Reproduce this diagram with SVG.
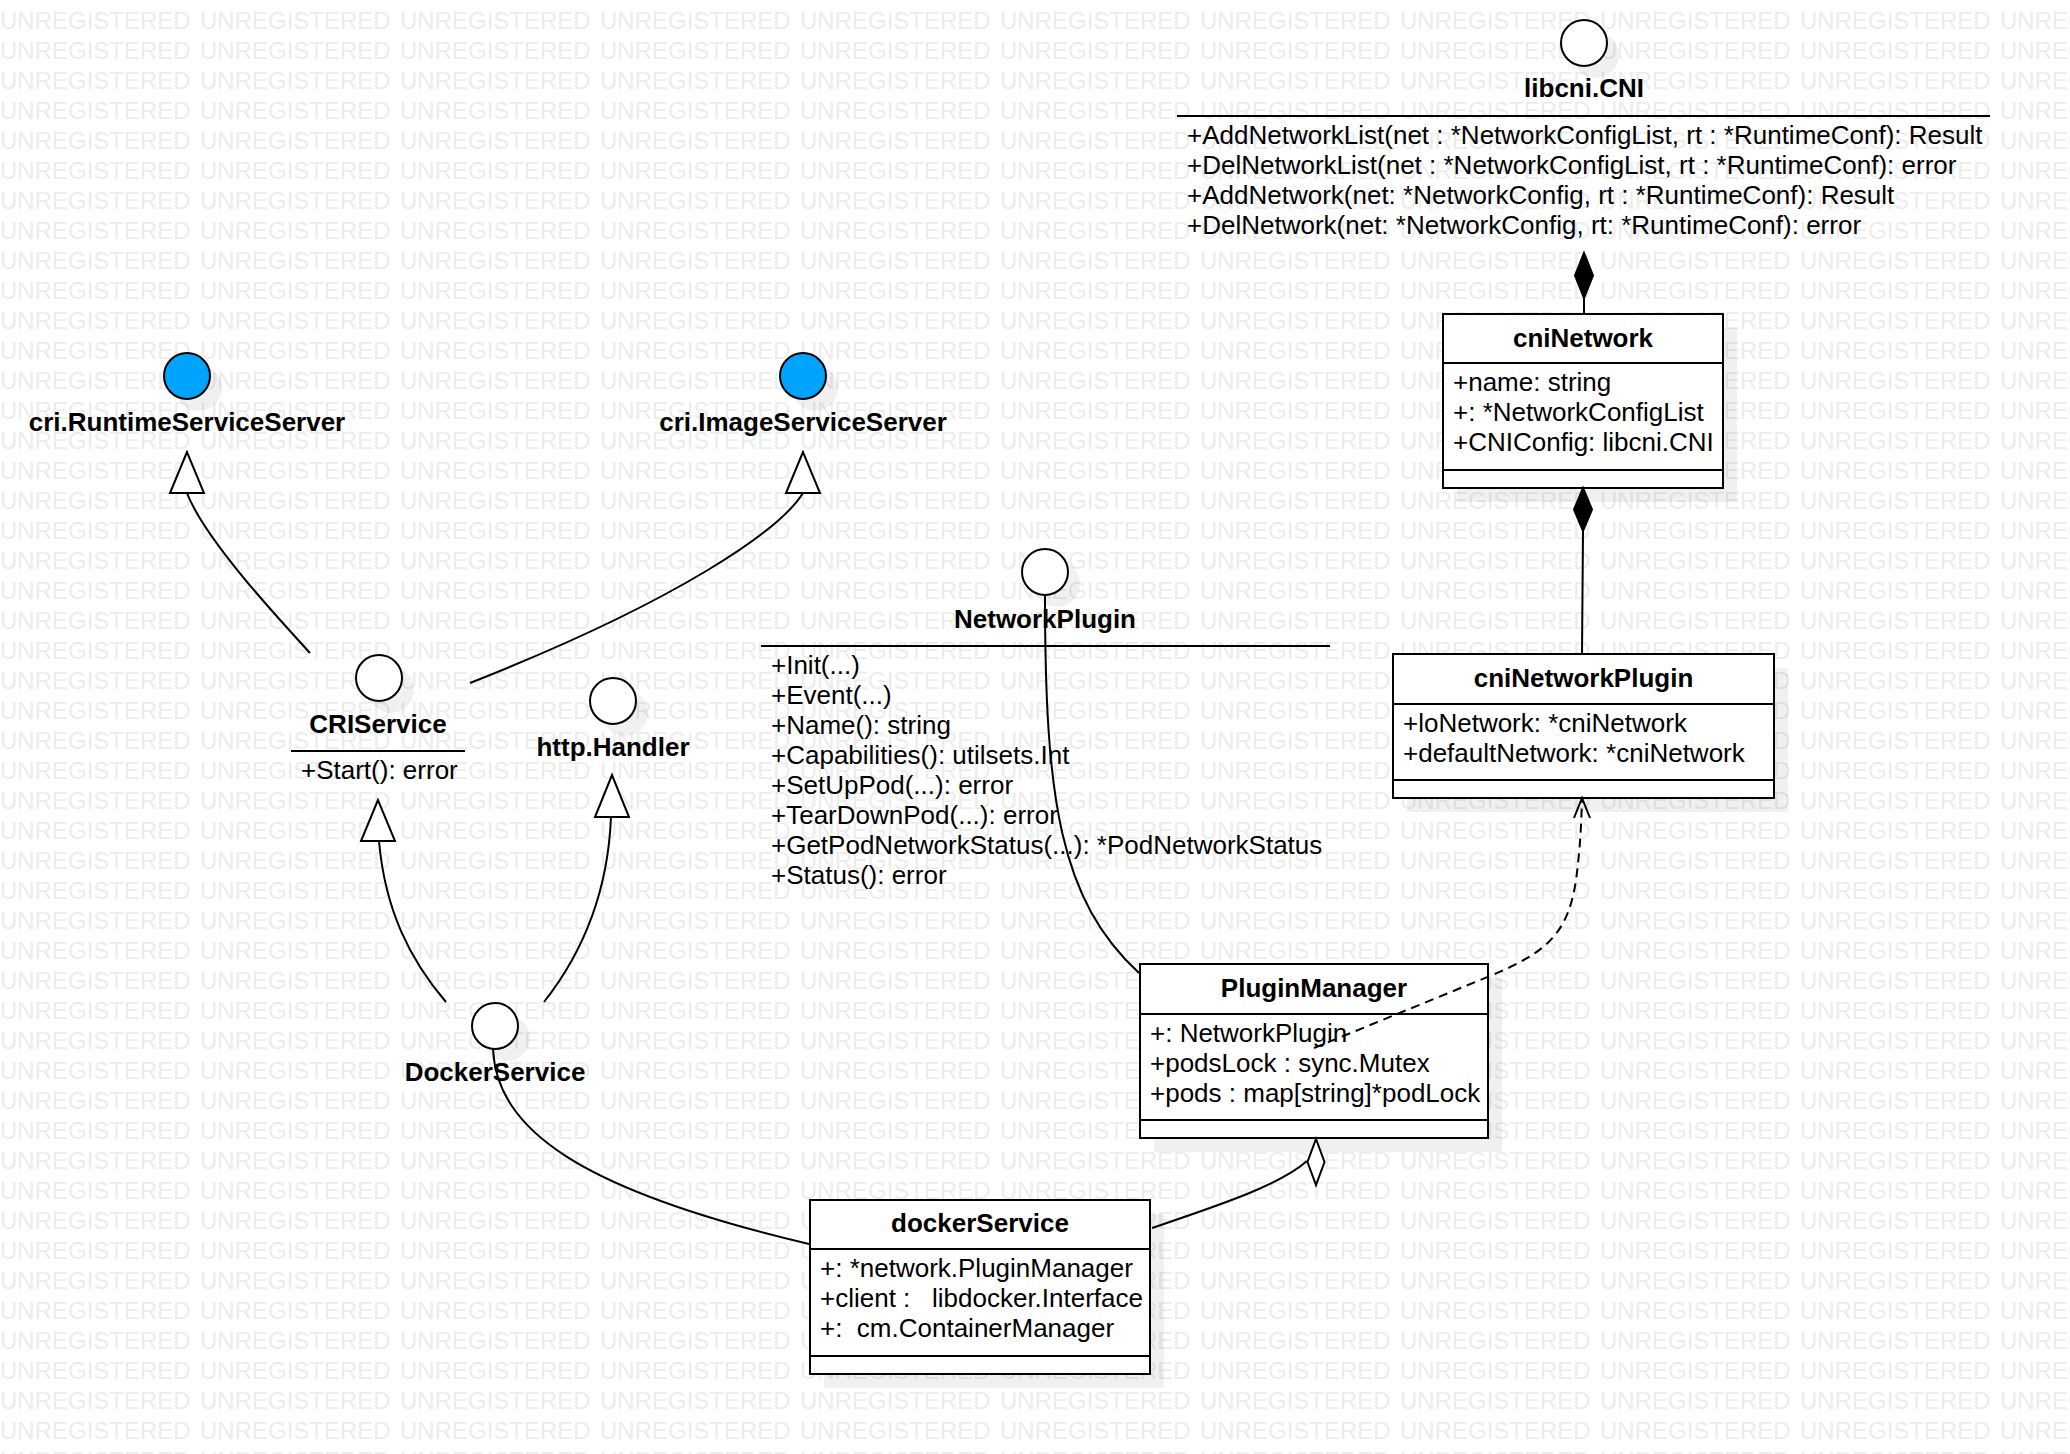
<svg xmlns="http://www.w3.org/2000/svg" width="2070" height="1454" viewBox="0 0 2070 1454">
<defs>
<style>
.wm{font-family:'Liberation Sans',Arial,sans-serif;font-size:24px;fill:#ececec}
.t{font-family:'Liberation Sans',Arial,sans-serif;font-size:26px;fill:#000}
.b{font-weight:bold;text-anchor:middle}
.box{fill:#fff;stroke:#000;stroke-width:2}
.sep{stroke:#000;stroke-width:2}
.sh{fill:#000;fill-opacity:0.06}
.ic{fill:#fff;stroke:#000;stroke-width:2}
.blue{fill:#00a4ff}
.ln{fill:none;stroke:#000;stroke-width:2}
.dash{stroke-dasharray:9 6}
.tri{fill:#fff;stroke:#000;stroke-width:2;stroke-linejoin:miter}
.dmf{fill:#000;stroke:#000;stroke-width:2}
.dmo{fill:#fff;stroke:#000;stroke-width:2}
</style>
<pattern id="wmp" patternUnits="userSpaceOnUse" x="0" y="0" width="200" height="30">
<text class="wm" x="0" y="29">UNREGISTERED</text>
</pattern>
</defs>
<rect width="2070" height="1454" fill="#fff"/>
<rect width="2070" height="1454" fill="url(#wmp)"/>

<g id="connectors">
<path class="ln" d="M310,653 C280,620 205,540 187,493"/>
<polygon class="tri" points="187,452 170,493 204,493"/>
<path class="ln" d="M470,683 C680,600 780,530 803,493"/>
<polygon class="tri" points="803,452 786,493 820,493"/>
<path class="ln" d="M446,1002 C410,960 385,910 379,841"/>
<polygon class="tri" points="378,800 361,841 395,841"/>
<path class="ln" d="M544,1002 C585,950 608,890 611,817"/>
<polygon class="tri" points="612,775 595,817 629,817"/>
<path class="ln" d="M1045,595 C1045,800 1060,900 1139,973"/>
<path class="ln" d="M493,1049 C497,1130 580,1190 809,1244"/>
<path class="ln" d="M1152,1228 C1220,1205 1280,1185 1307,1161"/>
<line class="ln" x1="1584" y1="298" x2="1584" y2="314"/>
<line class="ln" x1="1583" y1="531" x2="1582" y2="654"/>
</g>

<g id="libcni-CNI">
<circle class="sh" cx="1596" cy="55" r="23"/>
<circle class="ic" cx="1584" cy="43" r="23"/>
<text class="t b" x="1584" y="97">libcni.CNI</text>
<line class="sep" x1="1177" y1="116" x2="1990" y2="116"/>
<text class="t" x="1187" y="144">+AddNetworkList(net : *NetworkConfigList, rt : *RuntimeConf): Result</text>
<text class="t" x="1187" y="174">+DelNetworkList(net : *NetworkConfigList, rt : *RuntimeConf): error</text>
<text class="t" x="1187" y="204">+AddNetwork(net: *NetworkConfig, rt : *RuntimeConf): Result</text>
<text class="t" x="1187" y="234">+DelNetwork(net: *NetworkConfig, rt: *RuntimeConf): error</text>
</g>

<g id="cniNetwork">
<rect class="sh" x="1457" y="328" width="280" height="174"/>
<rect class="box" x="1443" y="314" width="280" height="174"/>
<line class="sep" x1="1443" y1="363" x2="1723" y2="363"/>
<line class="sep" x1="1443" y1="470" x2="1723" y2="470"/>
<text class="t b" x="1583" y="347">cniNetwork</text>
<text class="t" x="1453" y="391">+name: string</text>
<text class="t" x="1453" y="421">+: *NetworkConfigList</text>
<text class="t" x="1453" y="451">+CNIConfig: libcni.CNI</text>
</g>

<g id="cniNetworkPlugin">
<rect class="sh" x="1407" y="668" width="381" height="144"/>
<rect class="box" x="1393" y="654" width="381" height="144"/>
<line class="sep" x1="1393" y1="704" x2="1774" y2="704"/>
<line class="sep" x1="1393" y1="780" x2="1774" y2="780"/>
<text class="t b" x="1583.5" y="687">cniNetworkPlugin</text>
<text class="t" x="1403" y="732">+loNetwork: *cniNetwork</text>
<text class="t" x="1403" y="762">+defaultNetwork: *cniNetwork</text>
</g>

<g id="cri-RuntimeServiceServer">
<circle class="sh" cx="199" cy="388" r="23"/>
<circle class="ic blue" cx="187" cy="376" r="23"/>
<text class="t b" x="187" y="431">cri.RuntimeServiceServer</text>
</g>

<g id="cri-ImageServiceServer">
<circle class="sh" cx="815" cy="388" r="23"/>
<circle class="ic blue" cx="803" cy="376" r="23"/>
<text class="t b" x="803" y="431">cri.ImageServiceServer</text>
</g>

<g id="CRIService">
<circle class="sh" cx="391" cy="690" r="23"/>
<circle class="ic" cx="379" cy="678" r="23"/>
<text class="t b" x="378" y="733">CRIService</text>
<line class="sep" x1="291" y1="751" x2="465" y2="751"/>
<text class="t" x="301" y="779">+Start(): error</text>
</g>

<g id="http-Handler">
<circle class="sh" cx="625" cy="713" r="23"/>
<circle class="ic" cx="613" cy="701" r="23"/>
<text class="t b" x="613" y="756">http.Handler</text>
</g>

<g id="DockerService">
<circle class="sh" cx="507" cy="1038" r="23"/>
<circle class="ic" cx="495" cy="1026" r="23"/>
<text class="t b" x="495" y="1081">DockerService</text>
</g>

<g id="NetworkPlugin">
<circle class="sh" cx="1057" cy="584" r="23"/>
<circle class="ic" cx="1045" cy="572" r="23"/>
<text class="t b" x="1045" y="628">NetworkPlugin</text>
<line class="sep" x1="761" y1="646" x2="1330" y2="646"/>
<text class="t" x="771" y="674">+Init(...)</text>
<text class="t" x="771" y="704">+Event(...)</text>
<text class="t" x="771" y="734">+Name(): string</text>
<text class="t" x="771" y="764">+Capabilities(): utilsets.Int</text>
<text class="t" x="771" y="794">+SetUpPod(...): error</text>
<text class="t" x="771" y="824">+TearDownPod(...): error</text>
<text class="t" x="771" y="854">+GetPodNetworkStatus(...): *PodNetworkStatus</text>
<text class="t" x="771" y="884">+Status(): error</text>
</g>

<g id="PluginManager">
<rect class="sh" x="1154" y="978" width="348" height="174"/>
<rect class="box" x="1140" y="964" width="348" height="174"/>
<line class="sep" x1="1140" y1="1014" x2="1488" y2="1014"/>
<line class="sep" x1="1140" y1="1120" x2="1488" y2="1120"/>
<text class="t b" x="1314" y="997">PluginManager</text>
<text class="t" x="1150" y="1042">+: NetworkPlugin</text>
<text class="t" x="1150" y="1072">+podsLock : sync.Mutex</text>
<text class="t" x="1150" y="1102">+pods : map[string]*podLock</text>
</g>

<g id="dockerService">
<rect class="sh" x="824" y="1214" width="340" height="174"/>
<rect class="box" x="810" y="1200" width="340" height="174"/>
<line class="sep" x1="810" y1="1249" x2="1150" y2="1249"/>
<line class="sep" x1="810" y1="1356" x2="1150" y2="1356"/>
<text class="t b" x="980" y="1232">dockerService</text>
<text class="t" x="820" y="1277">+: *network.PluginManager</text>
<text class="t" x="820" y="1307" xml:space="preserve">+client :   libdocker.Interface</text>
<text class="t" x="820" y="1337" xml:space="preserve">+:  cm.ContainerManager</text>
</g>

<g id="connector-ends">
<polygon class="dmf" points="1584,253 1593,275.5 1584,298 1575,275.5"/>
<polygon class="dmf" points="1583,488 1592,509.5 1583,531 1574,509.5"/>
<polygon class="dmo" points="1316,1139 1324.5,1162 1316,1185 1307.5,1162"/>
<path class="ln dash" d="M1314,1048 L1490,976 C1545,953 1568,935 1576,880 C1580,850 1581,830 1582,800"/>
<polyline class="ln" points="1574,818 1582,798 1590,818"/>
</g>
</svg>
